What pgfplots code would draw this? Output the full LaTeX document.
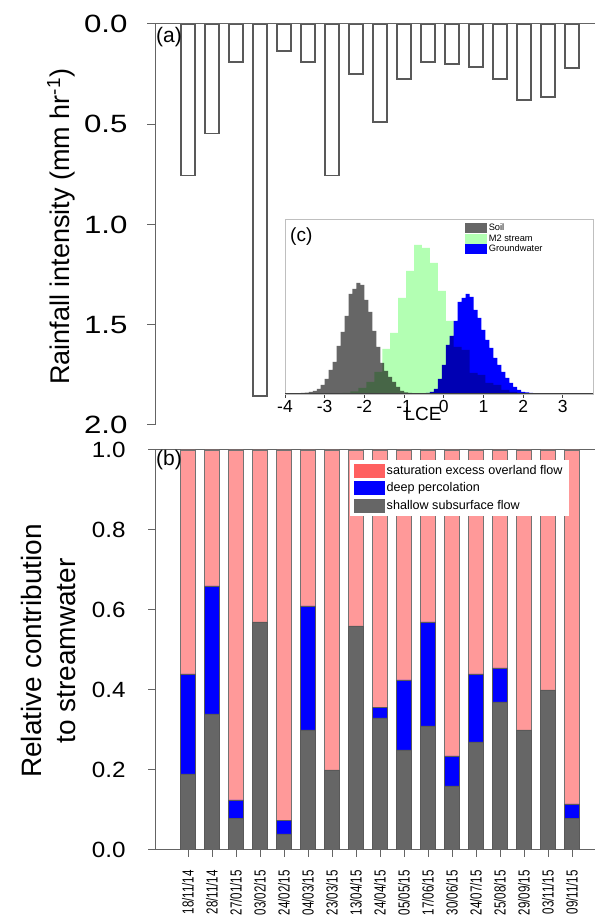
\documentclass[border=0pt]{standalone}
\usepackage{fontspec}
\setmainfont{Liberation Sans}
\newfontfamily\tickA[FakeStretch=1.25]{Liberation Sans}
\newfontfamily\tickB[FakeStretch=1.1]{Liberation Sans}
\newfontfamily\datefont[FakeStretch=0.72]{Liberation Sans}
\usepackage{pgfplots}
\pgfplotsset{compat=1.18}
\definecolor{barpink}{RGB}{255,153,153}
\definecolor{legpink}{RGB}{255,96,96}
\definecolor{soilgrey}{RGB}{102,102,102}
\definecolor{m2green}{RGB}{179,255,179}
\definecolor{axisgrey}{RGB}{100,100,100}

\begin{document}
\begin{tikzpicture}[x=1pt,y=1pt]

% ---------- (b) relative contribution ----------
\begin{axis}[
  at={(155pt,67pt)}, anchor=south west,
  scale only axis, width=440pt, height=400pt,
  xmin=-0.375, xmax=17.958, ymin=0, ymax=1,
  ybar stacked, bar width=14.5pt,
  axis lines*=left,
  axis line style={axisgrey, line width=1pt},
  tick align=outside, major tick length=7pt,
  tick style={axisgrey, line width=1pt},
  ytick={0,0.2,0.4,0.6,0.8,1},
  /pgf/number format/assume math mode=true,
  yticklabel style={font=\tickB\fontsize{22}{22}\selectfont, xshift=-19pt,
    /pgf/number format/.cd, fixed, fixed zerofill, precision=1},
  xtick={1,...,17},
  xticklabels={18/11/14,28/11/14,27/01/15,03/02/15,24/02/15,04/03/15,23/03/15,13/04/15,24/04/15,05/05/15,17/06/15,30/06/15,24/07/15,25/08/15,29/09/15,03/11/15,09/11/15},
  xticklabel style={font=\datefont\fontsize{16}{16}\selectfont, rotate=90, anchor=east,
    inner xsep=13pt},
  ylabel={Relative contribution\\to streamwater},
  every axis y label/.style={at={(axis description cs:-0.241,0.4975)}, rotate=90,
    anchor=center, align=center, font=\fontsize{28}{34}\selectfont},
  reverse legend,
  legend cell align=left,
  legend style={at={(axis description cs:0.443,0.975)}, anchor=north west,
    draw=none, fill=white, font=\fontsize{12.6}{12.6}\selectfont,
    row sep=3pt, inner xsep=4pt, inner ysep=3pt},
]
\addplot[fill=soilgrey, draw=black!65, line width=0.6pt,
  legend image code/.code={\fill[soilgrey] (0pt,-6.5pt) rectangle (30pt,6.5pt);}]
  coordinates {(1,0.19) (2,0.34) (3,0.078) (4,0.57) (5,0.04) (6,0.30) (7,0.20) (8,0.56) (9,0.33)
  (10,0.25) (11,0.31) (12,0.16) (13,0.27) (14,0.37) (15,0.30) (16,0.40) (17,0.078)};
\addplot[fill=blue, draw=black!65, line width=0.6pt,
  legend image code/.code={\fill[blue] (0pt,-6.5pt) rectangle (30pt,6.5pt);}]
  coordinates {(1,0.25) (2,0.32) (3,0.047) (4,0) (5,0.034) (6,0.31) (7,0) (8,0) (9,0.027)
  (10,0.175) (11,0.26) (12,0.075) (13,0.17) (14,0.085) (15,0) (16,0) (17,0.037)};
\addplot[fill=barpink, draw=black!55, line width=0.6pt,
  legend image code/.code={\fill[legpink] (0pt,-6.5pt) rectangle (30pt,6.5pt);}]
  coordinates {(1,0.56) (2,0.34) (3,0.875) (4,0.43) (5,0.926) (6,0.39) (7,0.80) (8,0.44) (9,0.643)
  (10,0.575) (11,0.43) (12,0.765) (13,0.56) (14,0.545) (15,0.70) (16,0.60) (17,0.885)};
\legend{shallow subsurface flow, deep percolation, saturation excess overland flow}
\draw[axisgrey, line width=1pt] (rel axis cs:0,1) -- (rel axis cs:1,1);
\end{axis}

% ---------- (a) rainfall intensity (plotted downward from 0) ----------
\begin{axis}[
  at={(155pt,492pt)}, anchor=south west,
  scale only axis, width=440pt, height=401pt,
  xmin=-0.375, xmax=17.958, ymin=-2, ymax=0,
  axis lines*=left,
  axis line style={axisgrey, line width=1pt},
  x axis line style={draw=none},
  tick align=outside, major tick length=8pt,
  tick style={axisgrey, line width=1pt},
  xtick=\empty,
  ytick={-2,-1.5,-1,-0.5,0},
  yticklabels={2.0,1.5,1.0,0.5,0.0},
  yticklabel style={font=\tickA\fontsize{25}{25}\selectfont, xshift=-16pt},
  ylabel={Rainfall intensity (mm hr\textsuperscript{-1})},
  every axis y label/.style={at={(axis description cs:-0.2136,0.494)}, rotate=90,
    anchor=center, font=\fontsize{27}{27}\selectfont},
]
\addplot[ybar, bar width=14.5pt, fill=white, draw=black!65, line width=1.6pt]
  coordinates {(1,-0.755) (2,-0.547) (3,-0.19) (4,-1.855) (5,-0.135) (6,-0.19) (7,-0.755) (8,-0.25)
  (9,-0.49) (10,-0.275) (11,-0.19) (12,-0.20) (13,-0.215) (14,-0.275) (15,-0.38) (16,-0.365) (17,-0.22)};
\draw[axisgrey, line width=1pt] (axis cs:-0.375,0) -- (axis cs:17.958,0);
\end{axis}

% ---------- (c) LCE histograms ----------
\begin{axis}[
  at={(285pt,523pt)}, anchor=south west,
  scale only axis, width=308pt, height=175pt,
  xmin=-4, xmax=3.76, ymin=0, ymax=175,
  axis background/.style={fill=white},
  axis line style={black!25, line width=0.8pt},
  ytick=\empty, xtick={-4,...,3}, xtick pos=left,
  tick align=outside, major tick length=4pt,
  tick style={black!75, line width=0.8pt},
  /pgf/number format/assume math mode=true,
  xticklabel style={font=\fontsize{17.5}{17.5}\selectfont, inner ysep=2pt},
  xlabel={LCE},
  every axis x label/.style={at={(axis description cs:0.448,0)}, anchor=north,
    yshift=-13pt, inner sep=0pt, font=\fontsize{19}{19}\selectfont},
  legend cell align=left,
  legend style={at={(axis description cs:0.585,0.985)}, anchor=north west,
    draw=none, fill=none, font=\fontsize{9.3}{9.3}\selectfont,
    row sep=-1.5pt, inner sep=0pt},
]
\addlegendimage{legend image code/.code={\fill[soilgrey] (0pt,-4.5pt) rectangle (21pt,4.5pt);}}
\addlegendentry{Soil}
\addlegendimage{legend image code/.code={\fill[m2green] (0pt,-4.5pt) rectangle (21pt,4.5pt);}}
\addlegendentry{M2 stream}
\addlegendimage{legend image code/.code={\fill[blue] (0pt,-4.5pt) rectangle (21pt,4.5pt);}}
\addlegendentry{Groundwater}
% M2 stream
\addplot[const plot, fill=m2green, draw=none, forget plot] coordinates {
  (-2.75,0.5) (-2.55,1) (-2.35,2.5) (-2.15,6) (-1.95,12) (-1.75,22) (-1.55,45) (-1.35,61)
  (-1.15,96) (-0.95,123) (-0.75,149) (-0.55,146) (-0.35,131) (-0.15,103) (0.05,73) (0.25,47)
  (0.45,44) (0.65,21) (0.85,19) (1.05,11) (1.25,9) (1.45,4) (1.65,2) (1.85,1) (2.05,0)
} \closedcycle;
% Soil
\addplot[const plot, fill=soilgrey, draw=none, blend mode=multiply, forget plot] coordinates {
  (-3.9,0.5) (-3.8,0.5) (-3.7,0.8) (-3.6,1) (-3.5,1.3) (-3.4,2) (-3.3,3) (-3.2,5) (-3.1,9)
  (-3.0,15) (-2.9,24) (-2.8,32) (-2.7,48) (-2.6,62) (-2.5,78) (-2.4,100) (-2.3,105) (-2.2,111)
  (-2.1,109) (-2.0,94) (-1.9,82) (-1.8,63) (-1.7,47) (-1.6,31) (-1.5,23) (-1.4,17) (-1.3,12)
  (-1.2,7) (-1.1,3) (-1.0,1.5) (-0.9,1) (-0.8,0.5) (-0.7,0)
} \closedcycle;
% Groundwater
\addplot[const plot, fill=blue, draw=none, blend mode=multiply, forget plot] coordinates {
  (-0.55,0.7) (-0.45,1) (-0.35,2) (-0.25,5) (-0.15,15) (-0.05,29) (0.05,49) (0.15,58)
  (0.25,73) (0.35,92) (0.45,96) (0.55,100) (0.65,97) (0.75,84) (0.85,76) (0.95,64) (1.05,54)
  (1.15,46) (1.25,36) (1.35,29) (1.45,22) (1.55,16) (1.65,11) (1.75,7) (1.85,4) (1.95,2)
  (2.05,1.5) (2.15,1) (2.25,0.5) (2.35,0.5) (2.45,0.5) (2.55,0.5) (2.65,0)
} \closedcycle;
\draw[black!75, line width=1pt] (rel axis cs:0,0) -- (rel axis cs:1,0);
\end{axis}

% panel letters
\node[anchor=west, inner sep=0pt, font=\fontsize{21}{21}\selectfont] at (156,880) {(a)};
\node[anchor=west, inner sep=0pt, font=\fontsize{21}{21}\selectfont] at (156,457) {(b)};
\node[anchor=west, inner sep=0pt, font=\fontsize{19}{19}\selectfont] at (290,680) {(c)};

\pgfresetboundingbox
\useasboundingbox (0,0) rectangle (595,917);
\end{tikzpicture}
\end{document}
